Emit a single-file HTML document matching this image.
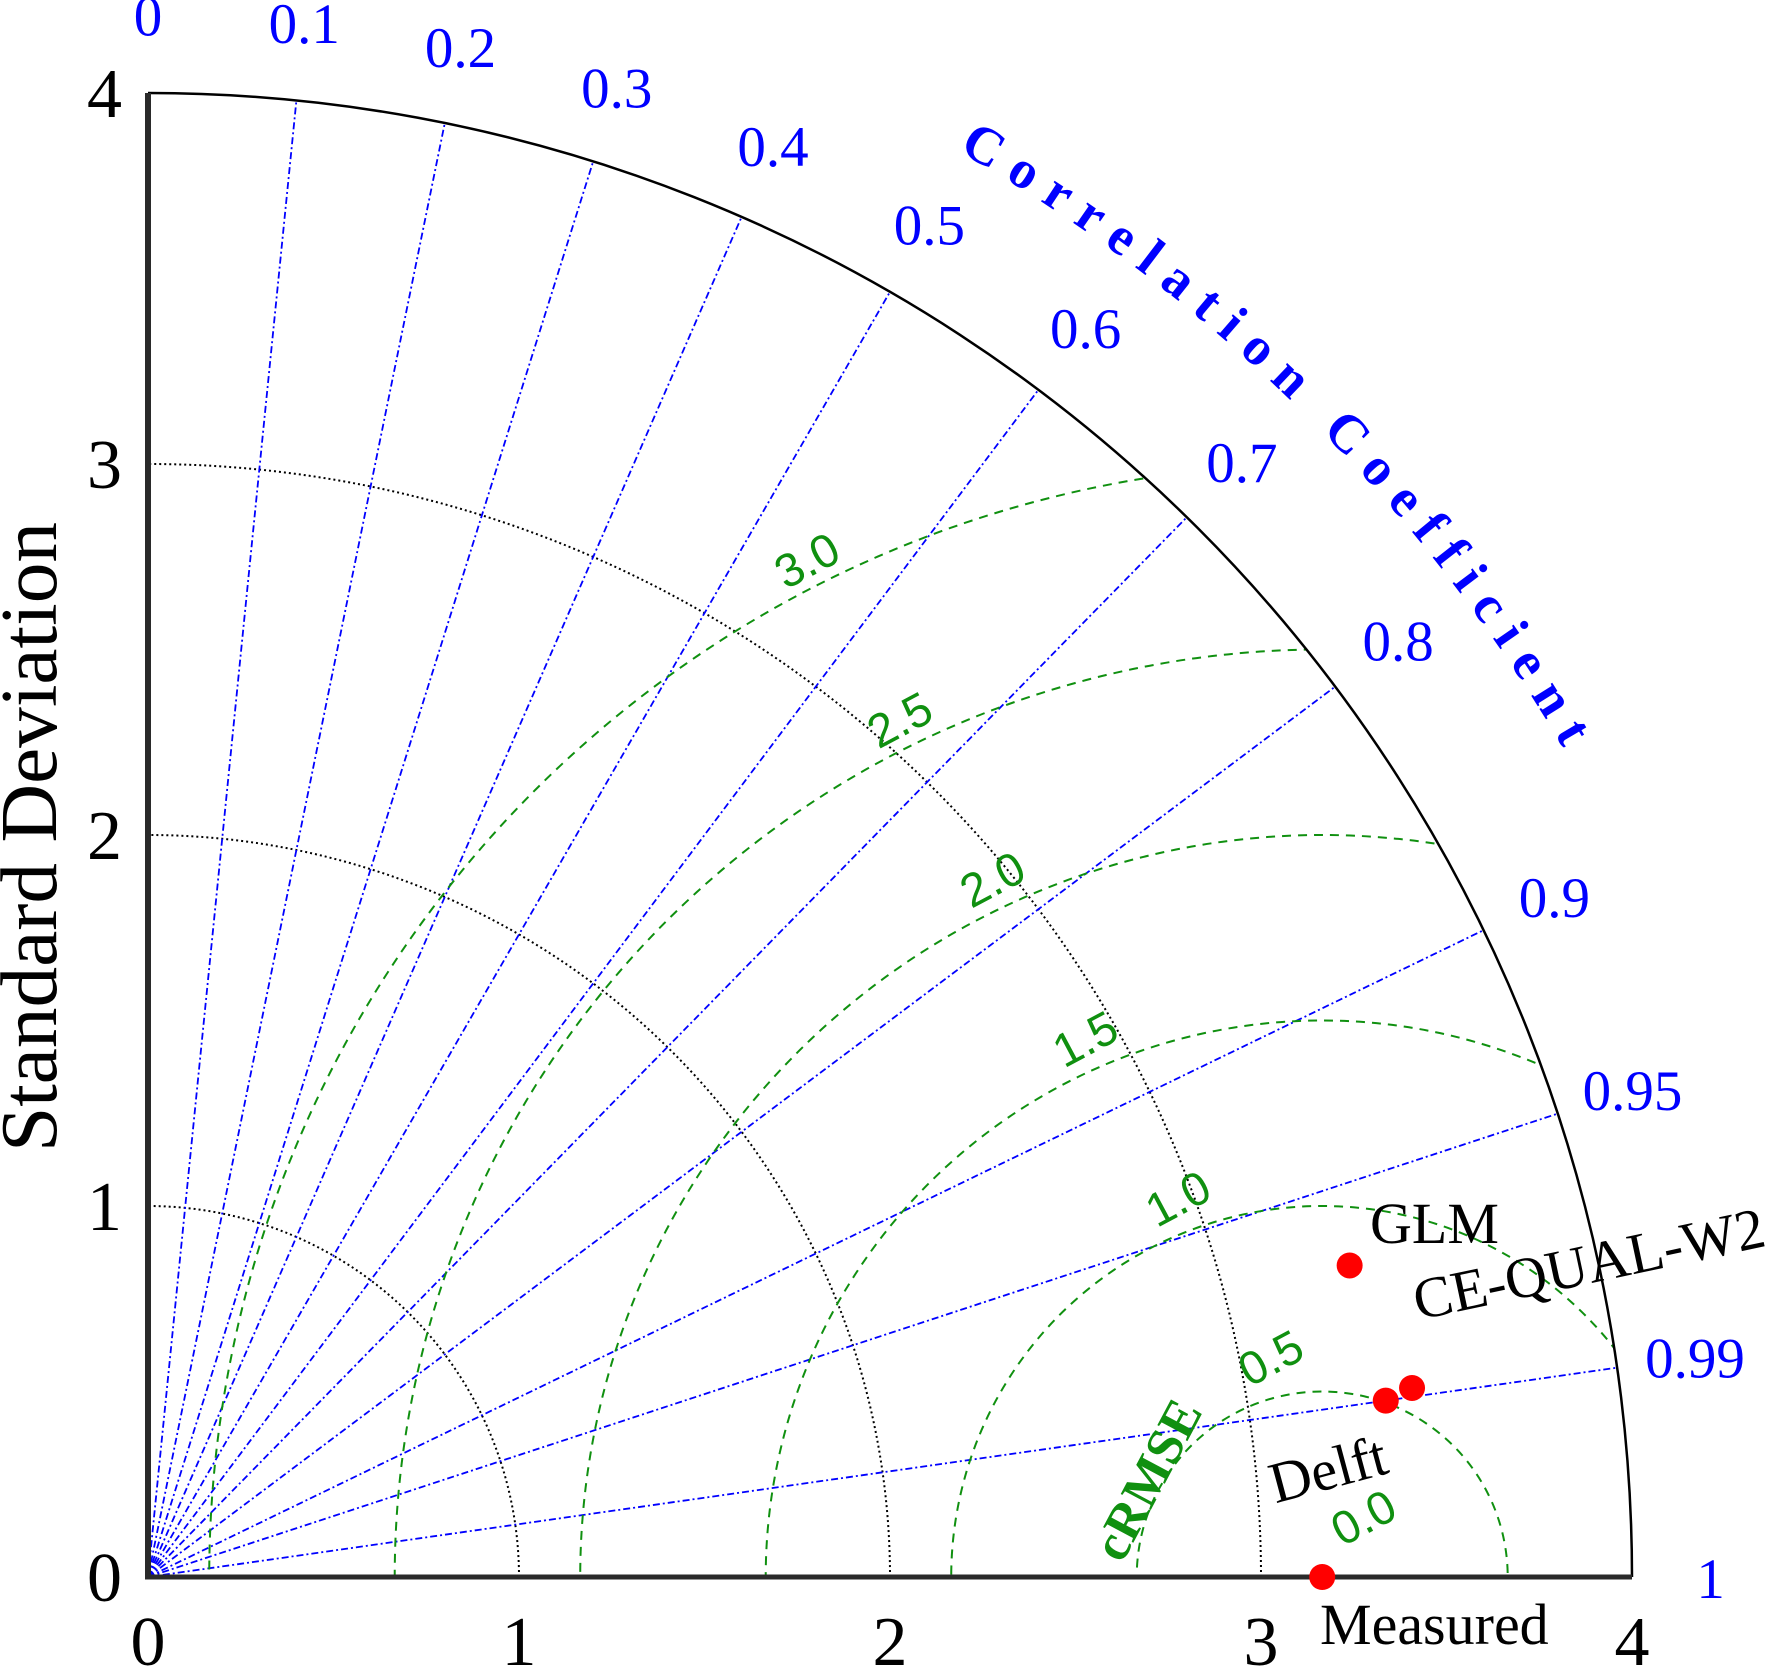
<!DOCTYPE html>
<html><head><meta charset="utf-8"><style>html,body{margin:0;padding:0;background:#fff;width:1772px;height:1671px;overflow:hidden}svg{display:block}</style></head>
<body>
<svg id="chart" width="1772" height="1671" viewBox="0 0 1772 1671" xmlns="http://www.w3.org/2000/svg">
<defs><clipPath id="quad"><path id="quadpath" d=""/></clipPath></defs>
<g id="layer"></g>
</svg>
<script>
const stdTicks = [0, 1, 2, 3, 4];
const stdArcs = [1, 2, 3];
const corrTicks = [0.1, 0.2, 0.3, 0.4, 0.5, 0.6, 0.7, 0.8, 0.9, 0.95, 0.99];
const corrLabels = ["0", "0.1", "0.2", "0.3", "0.4", "0.5", "0.6", "0.7", "0.8", "0.9", "0.95", "0.99", "1"];
const corrLabelVals = [0, 0.1, 0.2, 0.3, 0.4, 0.5, 0.6, 0.7, 0.8, 0.9, 0.95, 0.99, 1];
const rmsLevels = [0.5, 1.0, 1.5, 2.0, 2.5, 3.0];
const rmsLabels = ["0.0", "0.5", "1.0", "1.5", "2.0", "2.5", "3.0"];
const rmsLabelVals = [0, 0.5, 1.0, 1.5, 2.0, 2.5, 3.0];
const refStd = 3.165;
const modelNames = ["Measured", "GLM", "CE-QUAL-W2", "Delft"];
const modelStd = [3.165, 3.346, 3.445, 3.370];
const modelCorr = [1.0, 0.968, 0.989, 0.990];

const OX = 148, OY = 1577, U = 371, MAX = 4;
const NS = "http://www.w3.org/2000/svg";
const g = document.getElementById('layer');
function sx(x){return OX + x*U;}
function sy(y){return OY - y*U;}
function el(tag, attrs, parent){const e=document.createElementNS(NS,tag);for(const k in attrs)e.setAttribute(k,attrs[k]);(parent||g).appendChild(e);return e;}
function polar(r, c){const a=Math.acos(c);return [r*Math.cos(a), r*Math.sin(a)];}

const R = MAX*U;
document.getElementById('quadpath').setAttribute('d', `M${OX},${OY} L${OX+R},${OY} A${R},${R} 0 0 0 ${OX},${OY-R} Z`);

stdArcs.forEach(s=>{
  const p = el('path',{d:`M${sx(s)},${OY} A${s*U},${s*U} 0 0 0 ${OX},${sy(s)}`,fill:'none',stroke:'#000','stroke-width':2,'stroke-dasharray':'2,3'});
  
  
});
corrTicks.forEach(c=>{
  const [x,y]=polar(MAX,c);
  const l = el('line',{x1:OX,y1:OY,x2:sx(x),y2:sy(y),stroke:'#0000ff','stroke-width':1.8,'stroke-dasharray':'7,3,2,3'});
  
  
});
const rg = el('g',{'clip-path':'url(#quad)'});
rmsLevels.forEach(r=>{
  const c = el('circle',{cx:sx(refStd),cy:OY,r:r*U,fill:'none',stroke:'#109010','stroke-width':2,'stroke-dasharray':'9,7'},rg);
  
  
});
const oa = el('path',{d:`M${OX+R},${OY} A${R},${R} 0 0 0 ${OX},${OY-R}`,fill:'none',stroke:'#000','stroke-width':2.5});


const ax1 = el('line',{x1:OX,y1:OY,x2:OX,y2:OY-R,stroke:'#2a2a2a','stroke-width':6});


const ax2 = el('line',{x1:OX-3,y1:OY,x2:OX+R,y2:OY,stroke:'#2a2a2a','stroke-width':5});



const serif = '"Liberation Serif", serif', sans='"Liberation Sans", sans-serif';
stdTicks.forEach(s=>{
  const t = el('text',{x:sx(s),y:1665,'font-family':serif,'font-size':70,'text-anchor':'middle',fill:'#000'});
  t.textContent = s;
  
  
  const t2 = el('text',{x:122,y:sy(s)+24,'font-family':serif,'font-size':70,'text-anchor':'end',fill:'#000'});
  t2.textContent = s;
  
  
});
const yt = el('text',{x:0,y:0,transform:'translate(56,837) rotate(-90)','font-family':serif,'font-size':80,'text-anchor':'middle',fill:'#000',textLength:630,lengthAdjust:'spacingAndGlyphs'});
yt.textContent='Standard Deviation';


corrLabelVals.forEach((c,i)=>{
  const [x,y]=polar(MAX*1.053,c);
  const t = el('text',{x:sx(x),y:sy(y)+21,'font-family':serif,'font-size':57,'text-anchor':'middle',fill:'#0000ff'});
  t.textContent=corrLabels[i];
  
  
});
const rr = 1640;
const a1 = 60.4*Math.PI/180, a2 = 29*Math.PI/180;
el('path',{id:'ccpath',d:`M${OX+rr*Math.cos(a1)},${OY-rr*Math.sin(a1)} A${rr},${rr} 0 0 1 ${OX+rr*Math.cos(a2)},${OY-rr*Math.sin(a2)}`,fill:'none'});
const ct = el('text',{'font-family':serif,'font-size':54,'font-weight':'bold',fill:'#0000ff'});


const tp = el('textPath',{href:'#ccpath',textLength:860,lengthAdjust:'spacing'},ct);
tp.textContent='Correlation Coefficient';
rmsLabelVals.forEach((v,i)=>{
  const x = 1.776 + (3.0-v)/0.5*0.25, y = 2.741 - (3.0-v)/0.5*0.43;
  const t = el('text',{x:0,y:0,transform:`translate(${sx(x)},${sy(y)}) rotate(-28)`,'font-family':sans,'font-size':47,'text-anchor':'middle','dominant-baseline':'central',fill:'#109010'});
  t.textContent=rmsLabels[i];
  
  
});
const cr = el('text',{x:0,y:0,transform:'translate(1148,1480) rotate(-62)','font-family':serif,'font-size':52,'font-weight':'bold','text-anchor':'middle','dominant-baseline':'central',fill:'#109010'});
cr.textContent='cRMSE';


const labelPos = [[1320,1644,0,'start'],[1370,1243,0,'start'],[1418,1320,-12,'start'],[1333,1488,-15,'middle']];
modelStd.forEach((s,i)=>{
  const [x,y]=polar(s,modelCorr[i]);
  const c = el('circle',{cx:sx(x),cy:sy(y),r:13,fill:'#ff0000'});
  
  
  const p = labelPos[i];
  const t = el('text',{x:0,y:0,transform:`translate(${p[0]},${p[1]}) rotate(${p[2]})`,'font-family':serif,'font-size':58,'text-anchor':p[3],fill:'#000'});
  t.textContent=modelNames[i];
  
  
});
</script>
</body></html>
